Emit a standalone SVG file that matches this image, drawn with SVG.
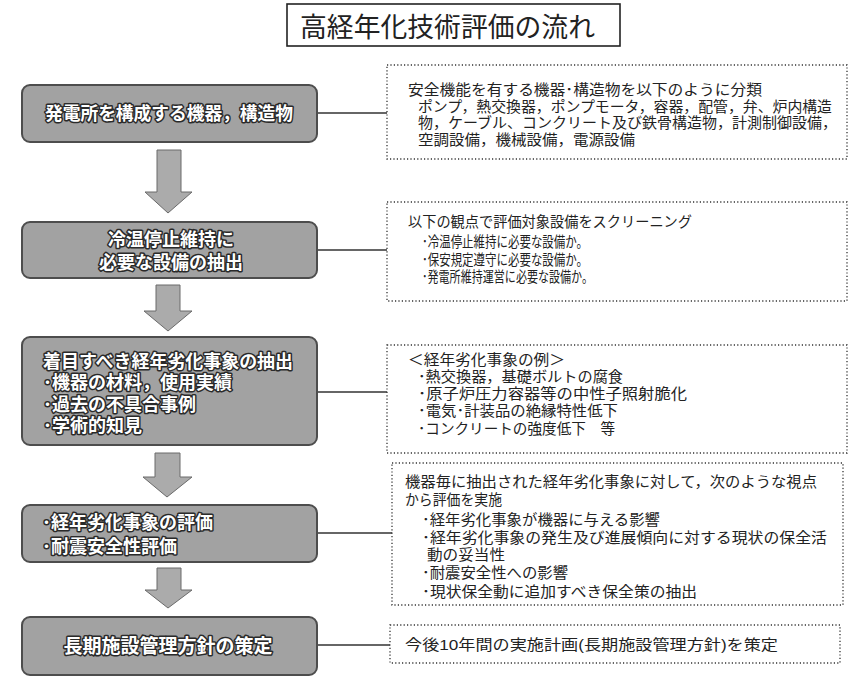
<svg xmlns="http://www.w3.org/2000/svg" width="854" height="684" viewBox="0 0 854 684">
<defs>
<style>
.lb{fill:#a2a2a2;stroke:#4d4d4d;stroke-width:2}
.lt{font-family:"Liberation Sans","Noto Sans CJK JP","Noto Sans CJK SC",sans-serif;font-weight:bold;font-size:18px;fill:#fff;stroke:#2a2a2a;stroke-width:3;stroke-linejoin:round;paint-order:stroke}
.rb{fill:#fff;stroke:#333;stroke-width:1.3;stroke-dasharray:1.2 2.2}
.rt{font-family:"Liberation Sans","Noto Sans CJK JP","Noto Sans CJK SC",sans-serif;font-size:14.5px;fill:#222}
.ar{fill:#ababab;stroke:#6a6a6a;stroke-width:1}
.cn{stroke:#333;stroke-width:1.4;fill:none}
</style>
</defs>
<rect width="854" height="684" fill="#fff"/>

<g id="title">
<rect x="287" y="4" width="333" height="42" fill="#fff" stroke="#222" stroke-width="1.6"/>
<text x="300" y="37" font-family="'Liberation Sans','Noto Sans CJK JP',sans-serif" font-size="27" fill="#222" textLength="295" lengthAdjust="spacingAndGlyphs">高経年化技術評価の流れ</text>
</g>

<g id="connectors">
<line class="cn" x1="318" y1="113" x2="387" y2="113"/>
<line class="cn" x1="318" y1="250" x2="387" y2="250"/>
<line class="cn" x1="318" y1="392" x2="387" y2="392"/>
<line class="cn" x1="318" y1="533" x2="392" y2="533"/>
<line class="cn" x1="318" y1="645" x2="390" y2="645"/>
<path class="ar" d="M157,150 H181 V192 H192 L168,213 L145,192 H157 Z"/>
<path class="ar" d="M156,285 H180 V311 H192 L168,331 L144,311 H156 Z"/>
<path class="ar" d="M155,453 H180 V477 H192 L167,497 L143,477 H155 Z"/>
<path class="ar" d="M157,568 H181 V590 H192 L168,608 L145,590 H157 Z"/>
</g>

<g id="n1">
<rect class="lb" x="22" y="85" width="295" height="57" rx="8"/>
<text class="lt" x="169" y="120" text-anchor="middle" textLength="248" lengthAdjust="spacingAndGlyphs">発電所を構成する機器，構造物</text>
</g>
<g id="n2">
<rect class="lb" x="22" y="222" width="295" height="56" rx="8"/>
<text class="lt" x="171" y="246" text-anchor="middle">冷温停止維持に</text>
<text class="lt" x="171" y="269" text-anchor="middle">必要な設備の抽出</text>
</g>
<g id="n3">
<rect class="lb" x="22" y="337" width="295" height="108" rx="8"/>
<text class="lt" x="43" y="368" textLength="250" lengthAdjust="spacingAndGlyphs">着目すべき経年劣化事象の抽出</text>
<text class="lt" x="43" y="389">･機器の材料，使用実績</text>
<text class="lt" x="43" y="411">･過去の不具合事例</text>
<text class="lt" x="43" y="432">･学術的知見</text>
</g>
<g id="n4">
<rect class="lb" x="22" y="505" width="295" height="57" rx="8"/>
<text class="lt" x="42" y="529">･経年劣化事象の評価</text>
<text class="lt" x="42" y="553">･耐震安全性評価</text>
</g>
<g id="n5">
<rect class="lb" x="22" y="617" width="295" height="58" rx="8"/>
<text class="lt" x="168" y="653" text-anchor="middle" style="font-size:19px">長期施設管理方針の策定</text>
</g>

<g id="r1">
<rect class="rb" x="387" y="65" width="460" height="94"/>
<text class="rt" x="408" y="95" textLength="354" lengthAdjust="spacingAndGlyphs">安全機能を有する機器･構造物を以下のように分類</text>
<text class="rt" x="418" y="112" textLength="414" lengthAdjust="spacingAndGlyphs">ポンプ，熱交換器，ポンプモータ，容器，配管，弁、炉内構造</text>
<text class="rt" x="418" y="128" textLength="419" lengthAdjust="spacingAndGlyphs">物，ケーブル、コンクリート及び鉄骨構造物，計測制御設備，</text>
<text class="rt" x="418" y="145" textLength="217" lengthAdjust="spacingAndGlyphs">空調設備，機械設備，電源設備</text>
</g>
<g id="r2">
<rect class="rb" x="387" y="202" width="460" height="99"/>
<text class="rt" x="408" y="227" textLength="284" lengthAdjust="spacingAndGlyphs">以下の観点で評価対象設備をスクリーニング</text>
<text class="rt" x="422" y="247" textLength="166" lengthAdjust="spacingAndGlyphs">･冷温停止維持に必要な設備か。</text>
<text class="rt" x="422" y="265" textLength="166" lengthAdjust="spacingAndGlyphs">･保安規定遵守に必要な設備か。</text>
<text class="rt" x="422" y="282" textLength="171" lengthAdjust="spacingAndGlyphs">･発電所維持運営に必要な設備か。</text>
</g>
<g id="r3">
<rect class="rb" x="387" y="345" width="460" height="108"/>
<text class="rt" x="408" y="365" textLength="157" lengthAdjust="spacingAndGlyphs">＜経年劣化事象の例＞</text>
<text class="rt" x="418" y="382" textLength="205" lengthAdjust="spacingAndGlyphs">･熱交換器，基礎ボルトの腐食</text>
<text class="rt" x="418" y="399" textLength="269" lengthAdjust="spacingAndGlyphs">･原子炉圧力容器等の中性子照射脆化</text>
<text class="rt" x="418" y="416" textLength="200" lengthAdjust="spacingAndGlyphs">･電気･計装品の絶縁特性低下</text>
<text class="rt" x="418" y="434" textLength="197" lengthAdjust="spacingAndGlyphs">･コンクリートの強度低下　等</text>
</g>
<g id="r4">
<rect class="rb" x="392" y="463" width="451" height="142"/>
<text class="rt" x="405" y="487" textLength="412" lengthAdjust="spacingAndGlyphs">機器毎に抽出された経年劣化事象に対して，次のような視点</text>
<text class="rt" x="405" y="505" textLength="97" lengthAdjust="spacingAndGlyphs">から評価を実施</text>
<text class="rt" x="422" y="525" textLength="238" lengthAdjust="spacingAndGlyphs">･経年劣化事象が機器に与える影響</text>
<text class="rt" x="422" y="543" textLength="405" lengthAdjust="spacingAndGlyphs">･経年劣化事象の発生及び進展傾向に対する現状の保全活</text>
<text class="rt" x="427" y="560" textLength="78" lengthAdjust="spacingAndGlyphs">動の妥当性</text>
<text class="rt" x="422" y="578" textLength="146" lengthAdjust="spacingAndGlyphs">･耐震安全性への影響</text>
<text class="rt" x="422" y="597" textLength="275" lengthAdjust="spacingAndGlyphs">･現状保全動に追加すべき保全策の抽出</text>
</g>
<g id="r5">
<rect class="rb" x="390" y="625" width="450" height="38"/>
<text class="rt" x="405" y="650" textLength="373" lengthAdjust="spacingAndGlyphs">今後10年間の実施計画(長期施設管理方針)を策定</text>
</g>
</svg>
